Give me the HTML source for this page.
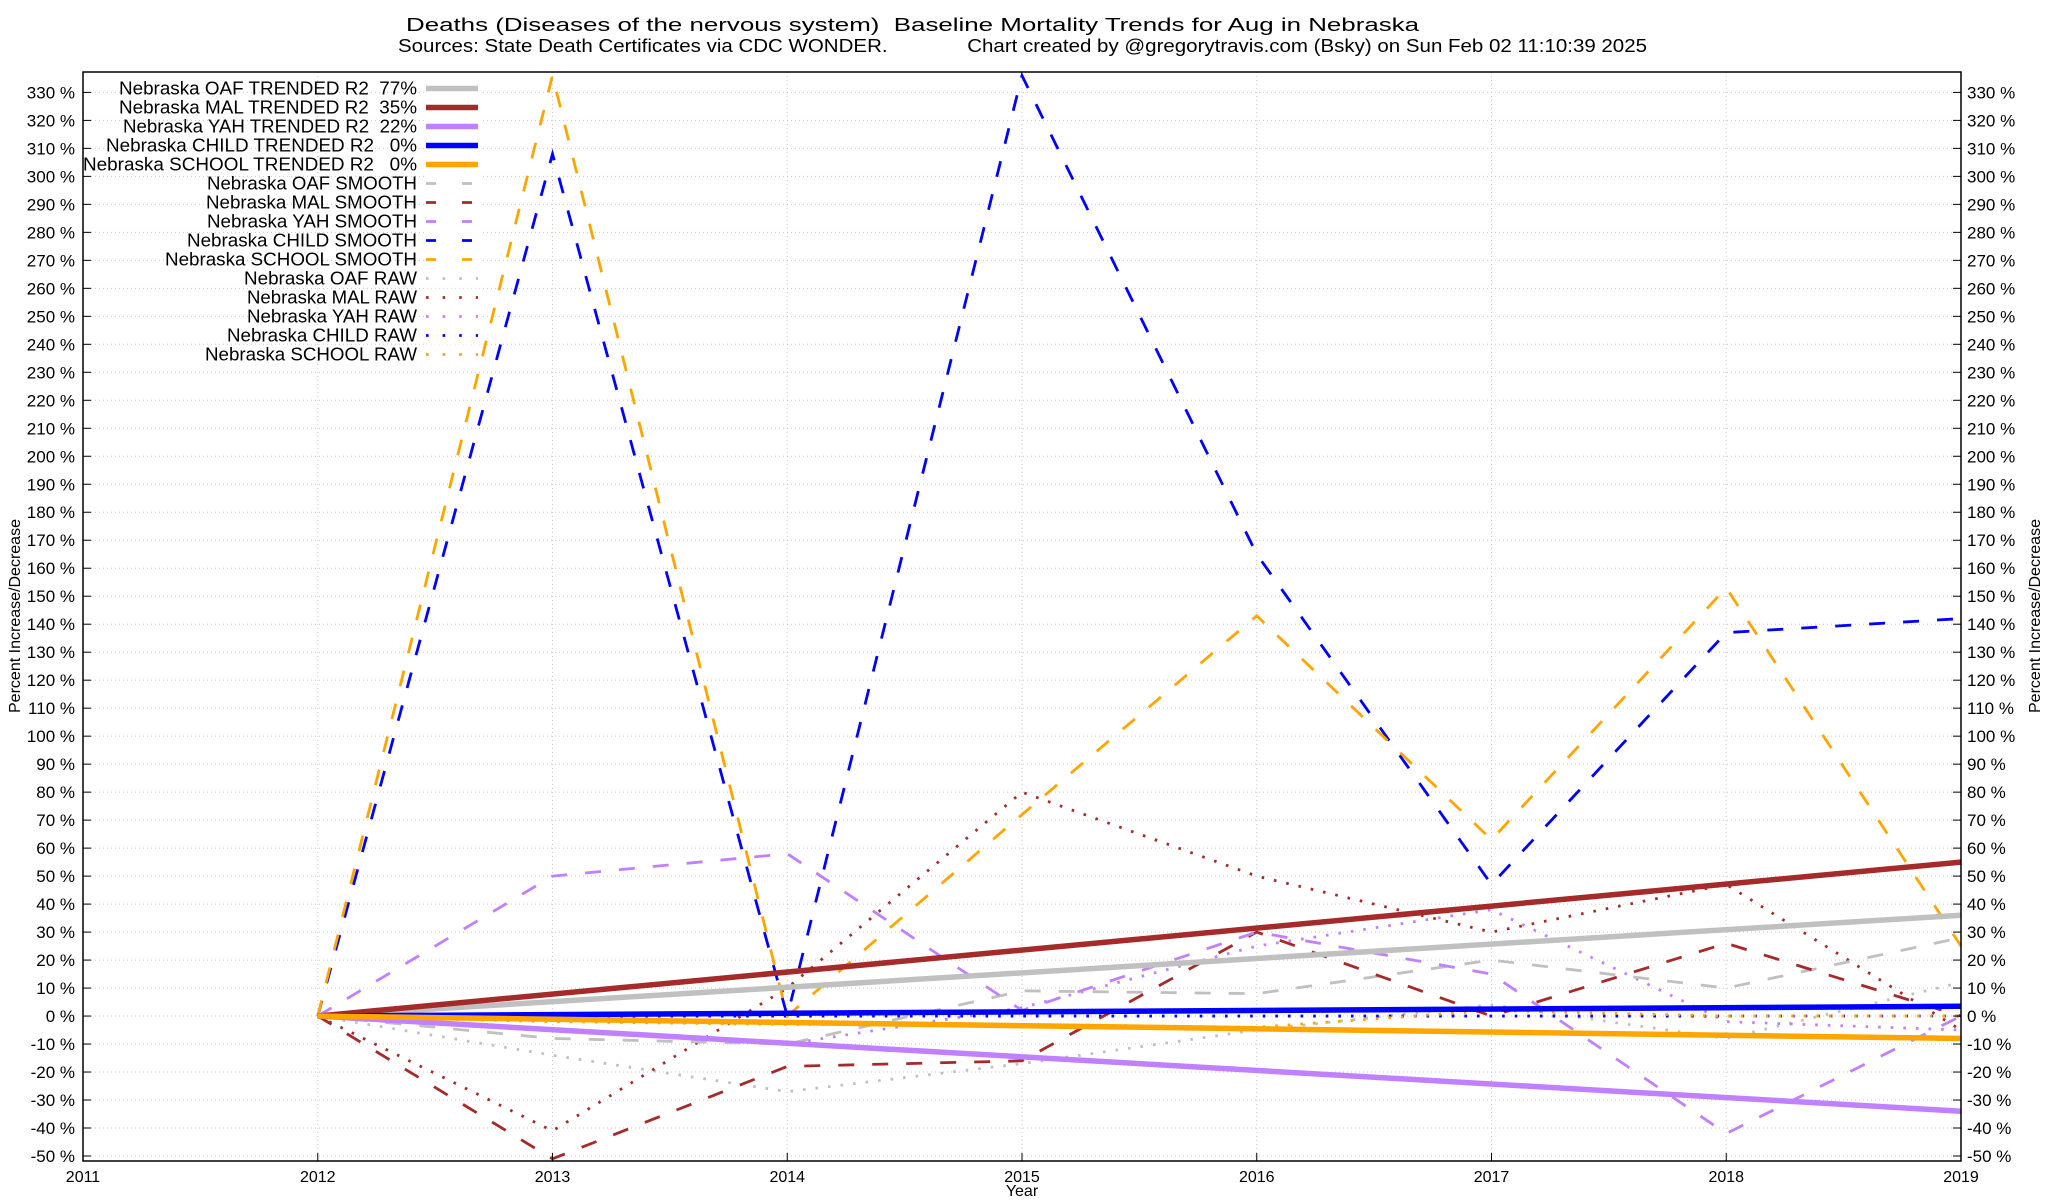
<!DOCTYPE html>
<html><head><meta charset="utf-8"><style>
html,body{margin:0;padding:0;background:#fff;}
svg{display:block;font-family:"Liberation Sans",sans-serif;}
.pre{white-space:pre;}
</style></head><body>
<svg id="chart" width="2048" height="1200" viewBox="0 0 2048 1200" xmlns="http://www.w3.org/2000/svg">
<text class="pre" x="406" y="31" font-size="18" textLength="1013" lengthAdjust="spacingAndGlyphs">Deaths (Diseases of the nervous system)  Baseline Mortality Trends for Aug in Nebraska</text>
<text class="pre" x="398" y="52" font-size="18" textLength="1249" lengthAdjust="spacingAndGlyphs">Sources: State Death Certificates via CDC WONDER.              Chart created by @gregorytravis.com (Bsky) on Sun Feb 02 11:10:39 2025</text>
<g id="grid"></g>
<g id="series"></g>
<g id="axes"></g>
<g id="legend"></g>
<text transform="translate(20,616) rotate(-90)" font-size="16" text-anchor="middle" textLength="194" lengthAdjust="spacingAndGlyphs">Percent Increase/Decrease</text>
<text transform="translate(2040,616) rotate(-90)" font-size="16" text-anchor="middle" textLength="194" lengthAdjust="spacingAndGlyphs">Percent Increase/Decrease</text>
<text x="1022" y="1196" font-size="16" text-anchor="middle">Year</text>
</svg>
<script>
const years = [2012,2013,2014,2015,2016,2017,2018,2019];
const xTicks = [2011,2012,2013,2014,2015,2016,2017,2018,2019];
const yTicks = [-50,-40,-30,-20,-10,0,10,20,30,40,50,60,70,80,90,100,110,120,130,140,150,160,170,180,190,200,210,220,230,240,250,260,270,280,290,300,310,320,330];
const oafTrend = [0,36];
const malTrend = [0,55];
const yahTrend = [0,-34];
const childTrend = [0,3.5];
const schoolTrend = [0,-8];
const oafSmooth = [0,-8,-10,9,8,20,10,28];
const malSmooth = [0,-51,-18,-16,30,0,26,0];
const yahSmooth = [0,50,58,2,30,15,-42,0];
const childSmooth = [0,308,0,336,165,47,137,142];
const schoolSmooth = [0,336,0,72,143,63,153,25];
const oafRaw = [0,-14,-27,-17,-5,4,-8,12];
const malRaw = [0,-41,10,80,50,30,47,-5];
const yahRaw = [0,-5,-10,3,25,38,-2,-5];
const childRaw = [0,0,0,0,0,0,0,0];
const schoolRaw = [0,-2,-3,-3,-4,2,0,0];

const L=83,R=1961,T=72,B=1161;
const X0=2011,X1=2019,Y0=-50,Y1=330;
const yTop=92.4,yBot=1156;
function xs(v){return L+(v-X0)/(X1-X0)*(R-L);}
function ys(v){return yBot-(v-Y0)/(Y1-Y0)*(yBot-yTop);}
const NS="http://www.w3.org/2000/svg";
function mk(tag,attrs,parent){const e=document.createElementNS(NS,tag);for(const k in attrs)e.setAttribute(k,attrs[k]);parent.appendChild(e);return e;}
const grid=document.getElementById('grid'),axes=document.getElementById('axes'),series=document.getElementById('series'),legend=document.getElementById('legend');

yTicks.forEach(v=>{
  const y=ys(v);
  const g=mk('line',{x1:L,x2:R,y1:y,y2:y,stroke:'#c8c8c8','stroke-width':1,'stroke-dasharray':'1,3'},grid);
  
  
  const t1=mk('line',{x1:L,x2:L+8,y1:y,y2:y,stroke:'#000'},axes);
  
  
  const t2=mk('line',{x1:R-8,x2:R,y1:y,y2:y,stroke:'#000'},axes);
  
  
  const lb=mk('text',{x:L-8,y:y+6,'font-size':17,'text-anchor':'end'},axes);
  lb.textContent=v+' %';
  
  
  const rb=mk('text',{x:R+6,y:y+6,'font-size':17,'text-anchor':'start'},axes);
  rb.textContent=v+' %';
  
  
});
xTicks.forEach(v=>{
  const x=xs(v);
  const g=mk('line',{x1:x,x2:x,y1:T,y2:B,stroke:'#c8c8c8','stroke-width':1,'stroke-dasharray':'1,3'},grid);
  
  
  const t=mk('line',{x1:x,x2:x,y1:B,y2:B-8,stroke:'#000'},axes);
  
  
  const lb=mk('text',{x:x,y:B+21,'font-size':16,'text-anchor':'middle'},axes);
  lb.textContent=v;
  
  
});
const fr=mk('rect',{x:L,y:T,width:R-L,height:B-T,fill:'none',stroke:'#000','stroke-width':1.5},axes);



const cp=mk('clipPath',{id:'clip'},series);
mk('rect',{x:L,y:T,width:R-L,height:B-T},cp);

const defs=[
 ['Nebraska OAF TRENDED R2  77%',oafTrend,'#c0c0c0','solid','oaf-trend',298],
 ['Nebraska MAL TRENDED R2  35%',malTrend,'#a52a2a','solid','mal-trend',298],
 ['Nebraska YAH TRENDED R2  22%',yahTrend,'#c080ff','solid','yah-trend',294],
 ['Nebraska CHILD TRENDED R2   0%',childTrend,'#0000ff','solid','child-trend',311],
 ['Nebraska SCHOOL TRENDED R2   0%',schoolTrend,'#ffa500','solid','school-trend',334],
 ['Nebraska OAF SMOOTH',oafSmooth,'#c0c0c0','dash','oaf-smooth',210],
 ['Nebraska MAL SMOOTH',malSmooth,'#a52a2a','dash','mal-smooth',211],
 ['Nebraska YAH SMOOTH',yahSmooth,'#c080ff','dash','yah-smooth',210],
 ['Nebraska CHILD SMOOTH',childSmooth,'#0000ff','dash','child-smooth',230],
 ['Nebraska SCHOOL SMOOTH',schoolSmooth,'#ffa500','dash','school-smooth',252],
 ['Nebraska OAF RAW',oafRaw,'#c0c0c0','dot','oaf-raw',173],
 ['Nebraska MAL RAW',malRaw,'#a52a2a','dot','mal-raw',170],
 ['Nebraska YAH RAW',yahRaw,'#c080ff','dot','yah-raw',170],
 ['Nebraska CHILD RAW',childRaw,'#0000ff','dot','child-raw',190],
 ['Nebraska SCHOOL RAW',schoolRaw,'#ffa500','dot','school-raw',212],
];
function styleOf(kind){
  if(kind==='solid')return {w:5.5,d:''};
  if(kind==='dash')return {w:2.8,d:'16,18'};
  return {w:2.8,d:'2.6,10'};
}
const order=[10,11,12,13,14,5,6,7,8,9,0,1,2,3,4];
order.forEach(i=>{
  const [label,vals,col,kind,name]=defs[i];
  const s=styleOf(kind);
  let pts;
  if(kind==='solid') pts=[[xs(2012),ys(vals[0])],[xs(2019),ys(vals[1])]];
  else pts=vals.map((v,j)=>[xs(years[j]),ys(v)]);
  const p=mk('polyline',{points:pts.map(q=>q.join(',')).join(' '),fill:'none',stroke:col,'stroke-width':s.w,'clip-path':'url(#clip)'},series);
  if(s.d)p.setAttribute('stroke-dasharray',s.d);
  
  
});
defs.forEach((d,i)=>{
  const [label,vals,col,kind,name,tl]=d;
  const s=styleOf(kind);
  const y=88.5+i*19;
  mk('rect',{x:425,y:y-9,width:56,height:18,fill:'#fff'},legend);
  const t=mk('text',{x:417-tl,y:y+6,'font-size':18,'class':'pre',textLength:tl,lengthAdjust:'spacingAndGlyphs'},legend);
  t.textContent=label;
  
  
  const l=mk('line',{x1:426,x2:478,y1:y,y2:y,stroke:col,'stroke-width':s.w},legend);
  if(kind==='dash')l.setAttribute('stroke-dasharray','10,26');
  if(kind==='dot')l.setAttribute('stroke-dasharray','2.6,14');
  
  
});
</script>
</body></html>
